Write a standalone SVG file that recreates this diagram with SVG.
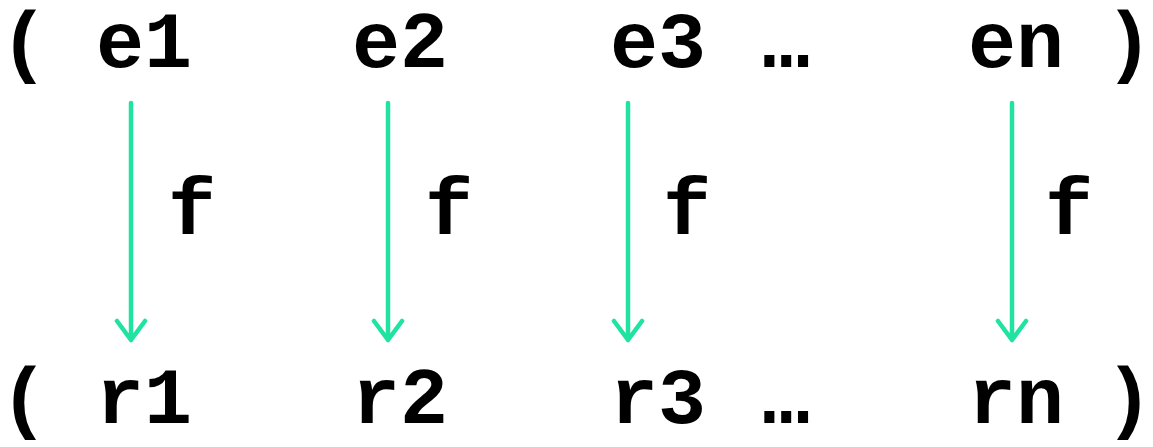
<svg xmlns="http://www.w3.org/2000/svg" width="1153" height="447" viewBox="0 0 1153 447">
<style>
.t{font-family:"Liberation Mono","Courier New",monospace;font-weight:bold;font-size:80px;fill:#000}
.d{font-family:"Liberation Mono","Courier New",monospace;font-weight:bold;font-size:80px;fill:#000}
.a{stroke:#20E3A2;stroke-width:4.5;fill:none;stroke-linecap:round;stroke-linejoin:round}
</style>
<g id="top-row">
<g id="lp1"><text class="t" x="0" y="67">(</text></g>
<g id="e1"><text class="t" x="96" y="67">e1</text></g>
<g id="e2"><text class="t" x="352" y="67">e2</text></g>
<g id="e3"><text class="t" x="610" y="67">e3</text></g>
<g id="dots1"><text class="d" x="762" y="67">…</text></g>
<g id="en"><text class="t" x="968" y="67">en</text></g>
<g id="rp1"><text class="t" x="1105" y="67">)</text></g>
</g>
<g id="bottom-row">
<g id="lp2"><text class="t" x="0" y="423">(</text></g>
<g id="r1"><text class="t" x="96" y="423">r1</text></g>
<g id="r2"><text class="t" x="352" y="423">r2</text></g>
<g id="r3"><text class="t" x="610" y="423">r3</text></g>
<g id="dots2"><text class="d" x="762" y="423">…</text></g>
<g id="rn"><text class="t" x="968" y="423">rn</text></g>
<g id="rp2"><text class="t" x="1105" y="423">)</text></g>
</g>
<g id="connectors">
<path class="a" d="M131 103V340M117 321L131 340L145 321"/>
<path class="a" d="M388 103V340M374 321L388 340L402 321"/>
<path class="a" d="M628 103V340M614 321L628 340L642 321"/>
<path class="a" d="M1012 103V340M998 321L1012 340L1026 321"/>
<text class="t" x="168" y="234">f</text>
<text class="t" x="425" y="234">f</text>
<text class="t" x="663" y="234">f</text>
<text class="t" x="1045" y="234">f</text>
</g>
</svg>
